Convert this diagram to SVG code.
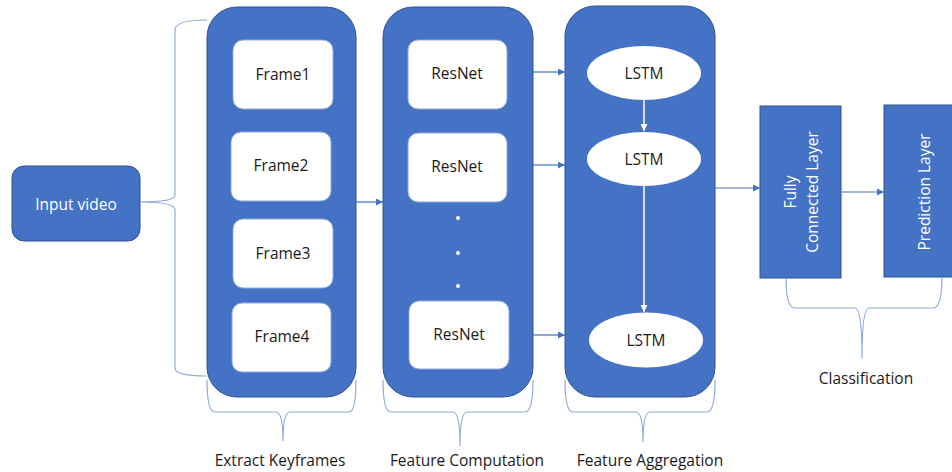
<svg xmlns="http://www.w3.org/2000/svg" width="952" height="472" viewBox="0 0 952 472">
<defs>
<marker id="ab" viewBox="0 0 10 10" refX="10" refY="5" markerWidth="7" markerHeight="7" markerUnits="userSpaceOnUse" orient="auto"><path d="M0,0 L10,5 L0,10 z" fill="#4472C4"/></marker>
<marker id="aw" viewBox="0 0 10 10" refX="10" refY="5" markerWidth="7" markerHeight="7" markerUnits="userSpaceOnUse" orient="auto"><path d="M0,0 L10,5 L0,10 z" fill="#FFFFFF"/></marker>
</defs>
<style>
.blue{fill:#4472C4;stroke:#2F528F;stroke-width:1}
.inner{fill:#FFFFFF;stroke:#8FAADC;stroke-width:1}
.brace{fill:none;stroke:#8FAADC;stroke-width:1.2}
.conn{fill:none;stroke:#4472C4;stroke-width:1.2}
.wconn{fill:none;stroke:#FFFFFF;stroke-width:1.5}
text{font-family:"Open Sans","Noto Sans","DejaVu Sans",sans-serif;font-size:15.5px;text-anchor:middle;dominant-baseline:central}
.dk{fill:#1A1A1A}
.wt{fill:#FFFFFF}
</style>
<rect width="952" height="472" fill="#FFFFFF"/>
<g id="input-video">
<rect class="blue" x="12" y="166" width="128" height="75" rx="12"/>
<text class="wt" x="76" y="204">Input video</text>
</g>
<g id="extract-keyframes">
<rect class="blue" x="207" y="7" width="149" height="390" rx="30"/>
<rect class="inner" x="233" y="40" width="100" height="69" rx="10"/>
<text class="dk" x="283" y="74">Frame1</text>
<rect class="inner" x="231" y="132" width="100" height="69" rx="10"/>
<text class="dk" x="281" y="165">Frame2</text>
<rect class="inner" x="233" y="219" width="100" height="69" rx="10"/>
<text class="dk" x="283" y="253">Frame3</text>
<rect class="inner" x="232" y="303" width="99" height="69" rx="10"/>
<text class="dk" x="282" y="336">Frame4</text>
</g>
<g id="feature-computation">
<rect class="blue" x="383" y="7" width="150" height="390" rx="30"/>
<rect class="inner" x="408" y="40" width="99" height="69" rx="10"/>
<text class="dk" x="457" y="73">ResNet</text>
<rect class="inner" x="408" y="133" width="99" height="69" rx="10"/>
<text class="dk" x="457" y="166">ResNet</text>
<circle cx="458" cy="218" r="2" fill="#FFFFFF"/>
<circle cx="458" cy="253" r="2" fill="#FFFFFF"/>
<circle cx="458" cy="286" r="2" fill="#FFFFFF"/>
<rect class="inner" x="409" y="301" width="100" height="68" rx="10"/>
<text class="dk" x="459" y="334">ResNet</text>
</g>
<g id="feature-aggregation">
<rect class="blue" x="565" y="6" width="150" height="391" rx="30"/>
<ellipse cx="644" cy="73" rx="57" ry="27" fill="#FFFFFF"/>
<text class="dk" x="644" y="73">LSTM</text>
<ellipse cx="644" cy="159" rx="57" ry="27" fill="#FFFFFF"/>
<text class="dk" x="644" y="159">LSTM</text>
<ellipse cx="646" cy="340" rx="57" ry="27.5" fill="#FFFFFF"/>
<text class="dk" x="646" y="340">LSTM</text>
</g>
<g id="fully-connected-layer">
<rect class="blue" x="760" y="106" width="81" height="172"/>
<text class="wt" transform="translate(790,192) rotate(-90)">Fully</text>
<text class="wt" transform="translate(812,192) rotate(-90)">Connected Layer</text>
</g>
<g id="prediction-layer">
<rect class="blue" x="884" y="105" width="80" height="172"/>
<text class="wt" transform="translate(924,192) rotate(-90)">Prediction Layer</text>
</g>
<g id="connectors">
<path class="brace" d="M207,20 Q175,20 175,30 L175,195 Q175,202 140,202 Q175,202 175,210 L175,368 Q175,376 207,376"/>
<path class="conn" d="M356,202 L383,202" marker-end="url(#ab)"/>
<path class="conn" d="M533,72 L565,72" marker-end="url(#ab)"/>
<path class="conn" d="M533,165 L565,165" marker-end="url(#ab)"/>
<path class="conn" d="M533,335 L565,335" marker-end="url(#ab)"/>
<path class="wconn" d="M644,100 L644,131" marker-end="url(#aw)"/>
<path class="wconn" d="M644,186 L644,312" marker-end="url(#aw)"/>
<path class="conn" d="M715,188 L760,188" marker-end="url(#ab)"/>
<path class="conn" d="M841,192 L884,192" marker-end="url(#ab)"/>
<path class="brace" d="M207,380 Q207,412 215,412 L276,412 Q283,412 283,441 Q283,412 290,412 L349,412 Q356,412 356,380"/>
<path class="brace" d="M383,380 Q383,412 391,412 L453,412 Q460,412 460,446 Q460,412 467,412 L525,412 Q533,412 533,380"/>
<path class="brace" d="M565,380 Q565,412 573,412 L636,412 Q643,412 643,442 Q643,412 650,412 L707,412 Q715,412 715,380"/>
<path class="brace" d="M786,278 Q786,308 795,308 L855,308 Q862,308 862,358 Q862,308 869,308 L933,308 Q942,308 942,277"/>
</g>
<text class="dk" x="280" y="460">Extract Keyframes</text>
<text class="dk" x="467" y="460">Feature Computation</text>
<text class="dk" x="650" y="460">Feature Aggregation</text>
<text class="dk" x="866" y="378">Classification</text>
</svg>
